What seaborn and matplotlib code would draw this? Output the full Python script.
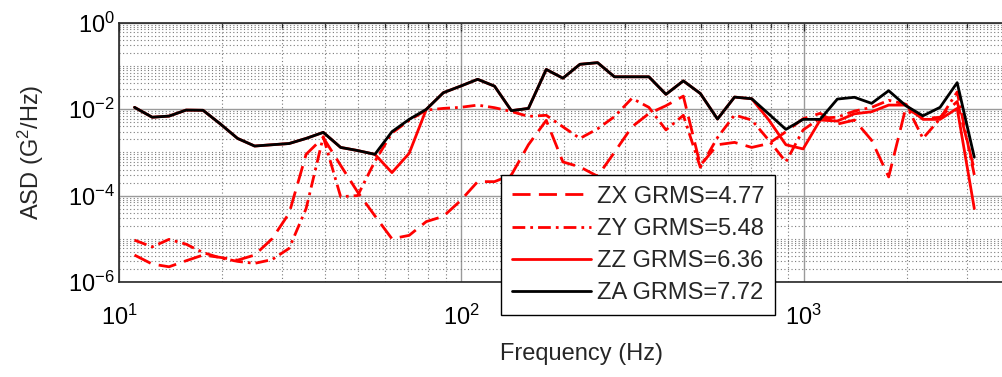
import numpy as np
import matplotlib
matplotlib.use("Agg")
import matplotlib.pyplot as plt
from matplotlib.ticker import FixedLocator, FuncFormatter, NullFormatter
import seaborn as sns

# 1/6-octave band centre frequencies (Hz)
freq_hz = [11.1, 12.5, 14.0, 15.7, 17.6, 19.8, 22.2, 24.9, 28.0, 31.4,
           35.2, 39.5, 44.4, 49.8, 55.9, 62.7, 70.4, 79.0, 88.6, 99.4,
           111.6, 125, 140, 157, 177, 198, 222, 250, 280, 315,
           353, 396, 445, 499, 560, 628, 705, 791, 887, 996,
           1117, 1254, 1407, 1579, 1771, 1988, 2230, 2502, 2807, 3150]

# acceleration spectral density per axis (G^2/Hz)
asd_zx = [4.2e-6, 2.6e-6, 2.25e-6, 3.1e-6, 4.2e-6, 3.7e-6, 3.2e-6, 4.2e-6, 1.0e-5, 3.9e-5,
          9e-4, 0.0022, 5e-4, 1.2e-4, 3.4e-5, 1.0e-5, 1.2e-5, 2.5e-5, 3.3e-5, 7.6e-5,
          2.1e-4, 2.1e-4, 3e-4, 1.5e-3, 0.0055, 6e-4, 4.6e-4, 2.8e-4, 1e-3, 0.0039,
          0.0079, 0.012, 0.02, 5e-4, 0.0015, 0.0017, 0.0013, 0.0016, 0.003, 0.006,
          0.008, 0.0045, 0.0056, 0.0019, 2.7e-4, 0.011, 0.006, 0.0065, 0.015, 4e-4]

asd_zy = [9.3e-6, 6.5e-6, 9.7e-6, 7.5e-6, 4.8e-6, 3.6e-6, 3.0e-6, 2.7e-6, 3.3e-6, 6.0e-6,
          5e-5, 0.0023, 9.4e-5, 1.0e-4, 6.2e-4, 0.0028, 0.0055, 0.0095, 0.0104, 0.011,
          0.0124, 0.0108, 0.0088, 0.0068, 0.0072, 0.0039, 0.0021, 0.0035, 0.0067, 0.0178,
          0.011, 0.0033, 0.0072, 4.5e-4, 0.0022, 0.0073, 0.0056, 0.0019, 6e-4, 0.0033,
          0.0062, 0.0065, 0.009, 0.011, 0.016, 0.013, 0.0021, 0.006, 0.025, 3e-4]

asd_zz = [0.011, 0.0065, 0.0069, 0.0095, 0.0094, 0.0045, 0.0021, 0.0014, 0.0015, 0.0016,
          0.0021, 0.0029, 0.0013, 0.0011, 0.0009, 0.00034, 0.00095, 0.0099, 0.024, 0.034,
          0.049, 0.034, 0.0092, 0.0104, 0.083, 0.052, 0.109, 0.119, 0.056, 0.056,
          0.056, 0.022, 0.045, 0.023, 0.0059, 0.019, 0.0174, 0.0056, 0.0015, 0.0012,
          0.0056, 0.0053, 0.0078, 0.0087, 0.0124, 0.0124, 0.0058, 0.0058, 0.0104, 0.00005]

asd_za = [0.011, 0.0065, 0.0069, 0.0095, 0.0094, 0.0045, 0.0021, 0.0014, 0.0015, 0.0016,
          0.0021, 0.0029, 0.0013, 0.0011, 0.0009, 0.003, 0.0058, 0.0099, 0.024, 0.034,
          0.049, 0.034, 0.0092, 0.0104, 0.083, 0.052, 0.109, 0.119, 0.056, 0.056,
          0.056, 0.022, 0.045, 0.023, 0.0059, 0.019, 0.0174, 0.0077, 0.0034, 0.0058,
          0.0058, 0.0171, 0.0188, 0.0136, 0.0267, 0.012, 0.0070, 0.011, 0.041, 0.00077]

series_labels = ["ZX GRMS=4.77", "ZY GRMS=5.48", "ZZ GRMS=6.36", "ZA GRMS=7.72"]

sns.set_style("white")
plt.rcParams["font.family"] = ["Liberation Sans", "DejaVu Sans"]
plt.rcParams["mathtext.fontset"] = "custom"
plt.rcParams["mathtext.rm"] = "Liberation Sans"
plt.rcParams["mathtext.it"] = "Liberation Sans:italic"
plt.rcParams["mathtext.default"] = "regular"

FS = 17

fig = plt.figure(figsize=(10.02, 3.77), dpi=100)
# plot box runs a little past the right edge of the canvas
ax = fig.add_axes([119 / 1002, 95 / 377, 924 / 1002, 259.3 / 377])
ax.set_xscale("log")
ax.set_yscale("log")

line_styles = [
    ("#ff0000", (0, (6.5, 3.0))),
    ("#ff0000", (0, (4.6, 1.8, 1.0, 1.8))),
    ("#ff0000", "-"),
    ("#000000", "-"),
]
for vals, lab, (col, ls) in zip([asd_zx, asd_zy, asd_zz, asd_za], series_labels, line_styles):
    sns.lineplot(x=freq_hz, y=vals, ax=ax, color=col, linestyle=ls,
                 linewidth=2.0, label=lab)

ax.set_xlim(10, 5000)
ax.set_ylim(1e-6, 1)

ax.xaxis.set_major_locator(FixedLocator([10, 100, 1000]))
x_minor = [k * 10 ** e for e in (1, 2, 3) for k in range(2, 10) if k * 10 ** e <= 5000]
ax.xaxis.set_minor_locator(FixedLocator(x_minor))
ax.yaxis.set_major_locator(FixedLocator([1e-6, 1e-4, 1e-2, 1.0]))
y_minor = [k * 10.0 ** e for e in range(-6, 0) for k in range(1, 10)
           if not (k == 1 and e % 2 == 0)]
ax.yaxis.set_minor_locator(FixedLocator(y_minor))

pow_fmt = FuncFormatter(lambda v, p: r"$10^{%d}$" % int(round(np.log10(v))))
ax.xaxis.set_major_formatter(pow_fmt)
ax.yaxis.set_major_formatter(pow_fmt)
ax.xaxis.set_minor_formatter(NullFormatter())
ax.yaxis.set_minor_formatter(NullFormatter())

ax.tick_params(which="both", direction="in", top=True, right=True,
               color="#262626", labelsize=FS, labelcolor="black")
ax.tick_params(which="major", length=6, width=1.0)
ax.tick_params(which="minor", length=3.5, width=0.9)
ax.tick_params(axis="x", which="major", pad=16)
ax.tick_params(axis="y", which="major", pad=3)

ax.grid(True, which="major", color="#9a9a9a", linewidth=1.0, linestyle="-")
ax.grid(True, which="minor", color="#7a7a7a", linewidth=0.8, linestyle=(0, (1, 2.2)))
ax.set_axisbelow(True)

for s in ax.spines.values():
    s.set_linewidth(1.2)
    s.set_color("#262626")

ax.set_xlabel("Frequency (Hz)", fontsize=FS)
ax.set_ylabel("ASD (G$^2$/Hz)", fontsize=FS)
ax.xaxis.set_label_coords(0.5, -0.235)
ax.yaxis.set_label_coords(-0.079, 0.5)

leg = ax.legend(loc="upper left", bbox_to_anchor=(501 / 1002, 1 - 175 / 377),
                bbox_transform=fig.transFigure, frameon=True, fancybox=False,
                framealpha=1, edgecolor="black", fontsize=FS, handlelength=3.35,
                handletextpad=0.25, borderpad=0.45, labelspacing=0.43,
                borderaxespad=0)
leg.get_frame().set_linewidth(1.0)

fig.savefig("out.png", dpi=100)
